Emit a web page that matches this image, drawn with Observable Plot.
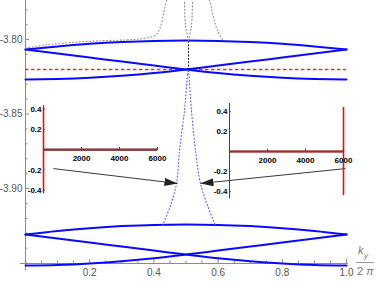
<!DOCTYPE html>
<html><head><meta charset="utf-8">
<script src="https://cdn.jsdelivr.net/npm/d3@7"></script>
<script src="https://cdn.jsdelivr.net/npm/@observablehq/plot@0.6"></script>
<style>
body{margin:0;background:#fff;}
#wrap{position:relative;width:376px;height:282px;overflow:hidden;font-family:"Liberation Sans",Arial,sans-serif;}
#wrap svg{position:absolute;}
.t{position:absolute;color:#777;line-height:1;white-space:nowrap;}
</style></head><body><div id="wrap"></div>
<script>
// ---------- data ----------
const kGrid   = [0,0.1,0.2,0.3,0.4,0.5,0.6,0.7,0.8,0.9,1.0];
const topArc  = [-3.8067,-3.8046,-3.8028,-3.8016,-3.8009,-3.8007,-3.8009,-3.8016,-3.8028,-3.8046,-3.8067];
const topFall = [-3.8067,-3.8094,-3.8121,-3.8148,-3.8174,-3.8201,-3.8225,-3.8243,-3.8256,-3.8264,-3.8268];
const topRise = [-3.8268,-3.8264,-3.8256,-3.8243,-3.8225,-3.8201,-3.8174,-3.8148,-3.8121,-3.8094,-3.8067];
const botArc  = [-3.9309,-3.9285,-3.9266,-3.9252,-3.9244,-3.9242,-3.9244,-3.9252,-3.9266,-3.9285,-3.9309];
const botFall = [-3.9309,-3.9336,-3.9362,-3.9389,-3.9416,-3.9443,-3.9468,-3.9488,-3.9503,-3.9513,-3.9517];
const botRise = [-3.9517,-3.9513,-3.9503,-3.9488,-3.9468,-3.9443,-3.9416,-3.9389,-3.9362,-3.9336,-3.9309];
const fermiE  = [-3.8201];

const spikeK = [0.4268,0.4517,0.4704,0.4798,0.4953,0.5047,0.5078,0.5093,0.5171,0.5296,0.5452,0.5670,0.5919];
const spikeE = [-3.9248,-3.9114,-3.8966,-3.8745,-3.8476,-3.8242,-3.8201,-3.8242,-3.8476,-3.8745,-3.8966,-3.9114,-3.9248];
const blackDotK = [0.5078,0.5078];
const blackDotE = [-3.8201,-3.8007];
const grayLeftK  = [0.5078,0.4984,0.4953];
const grayRightK = [0.5078,0.5171,0.5202];
const grayE      = [-3.8007,-3.7906,-3.7738];
const tanLeftK  = [0,0.0623,0.1402,0.2336,0.3364,0.3738,0.405,0.4206,0.4299,0.4393];
const tanLeftE  = [-3.8057,-3.8037,-3.8020,-3.8008,-3.8000,-3.7990,-3.7970,-3.7913,-3.7826,-3.7738];
const tanRightK = [0.6137,0.5981,0.5857,0.5763,0.5732];
const tanRightE = [-3.7999,-3.7940,-3.7852,-3.7758,-3.7738];

const arrowX1 = [0.087, 0.997];
const arrowY1 = [-3.8866, -3.8866];
const arrowX2 = [0.4735, 0.545];
const arrowY2 = [-3.8966, -3.8966];

const xMajor = [0.2,0.4,0.6,0.8,1.0];
const xMinor = [0.05,0.1,0.15,0.25,0.3,0.35,0.45,0.5,0.55,0.65,0.7,0.75,0.85,0.9,0.95];
const yMajor = [-3.80,-3.85,-3.90];
const yMinor = [-3.78,-3.79,-3.81,-3.82,-3.83,-3.84,-3.86,-3.87,-3.88,-3.89,-3.91,-3.92,-3.93,-3.94,-3.95];

const insetK = [0, 6000];
const insetZero = [0, 0];
const leftSpikeE  = [-0.42, 0.42];
const rightSpikeE = [-0.43, 0.44];
const insetXTicks = [2000, 4000, 6000];
const insetYTicks = [-0.4, -0.2, 0.2, 0.4];

// ---------- helpers ----------
const yBot = -3.9503, yTop = -3.7738;
const pts = (xs, ys) => xs.map((x, i) => ({x, y: ys[i]}));
const wrap = document.getElementById("wrap");
const fmt = (n) => (d) => d.toFixed(n);

function filledArrow(color, context) {
  const doc = (context && context.document) || document;
  const ns = "http://www.w3.org/2000/svg";
  const m = doc.createElementNS(ns, "marker");
  m.setAttribute("viewBox", "-13 -4 13 8");
  m.setAttribute("markerWidth", 13);
  m.setAttribute("markerHeight", 8);
  m.setAttribute("markerUnits", "userSpaceOnUse");
  m.setAttribute("orient", "auto");
  m.setAttribute("refX", 0);
  m.setAttribute("refY", 0);
  const p = doc.createElementNS(ns, "path");
  p.setAttribute("d", "M-13,-4L0,0L-13,4Z");
  p.setAttribute("fill", color);
  p.setAttribute("stroke", "none");
  m.appendChild(p);
  return m;
}

function mainChart(marker) {
  const blue = {x: "x", y: "y", stroke: "#0a0aff", strokeWidth: 2, curve: "monotone-x"};
  const dotted = (c) => ({x: "x", y: "y", stroke: c, strokeWidth: 1.1, strokeDasharray: "1,2.4", curve: "catmull-rom"});
  return Plot.plot({
    width: 376, height: 282,
    marginLeft: 25, marginRight: 30, marginTop: 0, marginBottom: 19,
    x: {domain: [0, 1]},
    y: {domain: [yBot, yTop]},
    style: {background: "transparent", fontFamily: "Liberation Sans, Arial, sans-serif", fontSize: "10px", color: "#555", overflow: "visible"},
    marks: [
      Plot.ruleX([0], {y1: -3.955, y2: yTop, stroke: "#8a8a8a", strokeWidth: 1}),
      Plot.ruleY([yBot], {x1: -0.016, x2: 1.006, stroke: "#8a8a8a", strokeWidth: 1}),
      Plot.ruleX(xMajor, {y1: yBot, y2: yBot + 0.0028, stroke: "#8a8a8a"}),
      Plot.ruleX(xMinor, {y1: yBot, y2: yBot + 0.0017, stroke: "#8a8a8a"}),
      Plot.ruleY(yMajor, {x1: 0, x2: 0.0125, stroke: "#8a8a8a"}),
      Plot.ruleY(yMinor, {x1: 0, x2: 0.0078, stroke: "#8a8a8a"}),
      Plot.axisY({ticks: yMajor, tickSize: 0, tickPadding: 3, tickFormat: fmt(2), label: null}),
      Plot.axisX({ticks: xMajor, tickSize: 0, tickPadding: 5, tickFormat: fmt(1), label: null}),
      Plot.ruleY(fermiE, {x1: 0, x2: 1, stroke: "#e8332a", strokeWidth: 1.3, strokeDasharray: "3.5,2.5"}),
      Plot.line(pts(kGrid, topArc), blue),
      Plot.line(pts(kGrid, topFall), blue),
      Plot.line(pts(kGrid, topRise), blue),
      Plot.line(pts(kGrid, botArc), blue),
      Plot.line(pts(kGrid, botFall), blue),
      Plot.line(pts(kGrid, botRise), blue),
      Plot.line(pts(spikeK, spikeE), dotted("#5a5aff")),
      Plot.line(pts(blackDotK, blackDotE), dotted("#111")),
      Plot.line(pts(grayLeftK, grayE), dotted("#888")),
      Plot.line(pts(grayRightK, grayE), dotted("#888")),
      Plot.line(pts(tanLeftK, tanLeftE), dotted("#a39180")),
      Plot.line(pts(tanRightK, tanRightE), dotted("#a39180")),
      Plot.link([0, 1], {x1: i => arrowX1[i], y1: i => arrowY1[i], x2: i => arrowX2[i], y2: i => arrowY2[i],
        stroke: "#222", strokeWidth: 0.9, markerEnd: marker})
    ]
  });
}

let main;
try { main = mainChart(filledArrow); } catch (e) { main = mainChart("arrow"); }
main.style.left = "0px"; main.style.top = "0px";
wrap.appendChild(main);

function inset(spikeX, spikeE, yDomain, frameH, left, top) {
  const mT = 4, mB = 6, mL = 18, mR = 12, frameW = 114;
  const svg = Plot.plot({
    width: mL + frameW + mR, height: mT + frameH + mB,
    marginLeft: mL, marginRight: mR, marginTop: mT, marginBottom: mB,
    x: {domain: [0, 6000], axis: null},
    y: {domain: yDomain},
    style: {background: "transparent", fontFamily: "Liberation Sans, Arial, sans-serif", fontSize: "8px", fontWeight: "bold", color: "#000", overflow: "visible"},
    marks: [
      Plot.ruleX([0], {stroke: "#444", strokeWidth: 1}),
      Plot.ruleY([0], {x1: 0, x2: 6000, stroke: "#5a2020", strokeWidth: 2.2}),
      Plot.line(pts(insetK, insetZero), {x: "x", y: "y", stroke: "#d81818", strokeWidth: 1.3}),
      Plot.line(pts([spikeX, spikeX], spikeE), {x: "x", y: "y", stroke: "#e81010", strokeWidth: 1.6}),
      Plot.ruleX(insetXTicks, {y1: 0, y2: (yDomain[1]-yDomain[0]) * 0.025, stroke: "#444"}),
      Plot.ruleY(insetYTicks, {x1: 0, x2: 90, stroke: "#444"}),
      Plot.axisY({ticks: insetYTicks, tickSize: 0, tickPadding: 2, tickFormat: fmt(1), label: null}),
      Plot.text(insetXTicks, {x: d => d, y: 0, dy: 8.5, text: d => String(d), fill: "#000"})
    ]
  });
  svg.style.left = (left - mL) + "px";
  svg.style.top = (top - mT) + "px";
  wrap.appendChild(svg);
}
inset(0, leftSpikeE, [-0.435, 0.435], 88.3, 43, 104.8);
inset(6000, rightSpikeE, [-0.475, 0.48], 95.5, 229, 103);

// axis label k_y / 2π
const lab = document.createElement("div");
lab.innerHTML =
  '<span class="t" style="left:358px;top:245px;font-size:11px;font-style:italic">k</span>' +
  '<span class="t" style="left:364px;top:252px;font-size:8px;font-style:italic">y</span>' +
  '<span class="t" style="left:356px;top:261.5px;width:18px;height:1px;background:#999"></span>' +
  '<span class="t" style="left:357px;top:266px;font-size:11px">2 <i>π</i></span>';
wrap.appendChild(lab);
</script>
</body></html>
